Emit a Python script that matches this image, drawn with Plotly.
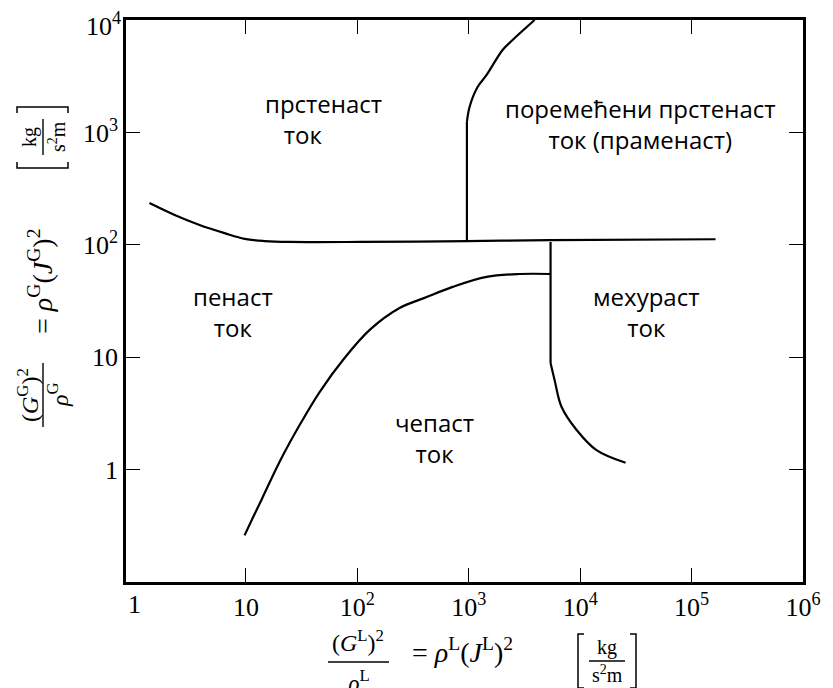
import numpy as np
import plotly.graph_objects as go

# flow-regime boundaries (x = (G^L)^2/rho^L, y = (G^G)^2/rho^G)
upper_x = [1.36, 2.29, 3.83, 6.43, 9.71, 14.7, 24.6, 105, 962, 5310, 164000]
upper_y = [235, 184, 150, 127, 113, 108, 106, 106, 108, 110, 112]

annular_x = [962, 962, 1016, 1199, 1445, 2010, 2472, 3899]
annular_y = [108, 1239, 1683, 2535, 3243, 5410, 6640, 10000]

slug_x = [9.71, 11.6, 13.8, 20.0, 30.3, 45.8, 76.7, 129, 239, 401, 716, 1445, 2858, 5420]
slug_y = [0.26, 0.378, 0.54, 1.17, 2.49, 4.9, 9.84, 17.5, 27.4, 33.7, 42.2, 51.8, 55, 55]

bubble_x = [5420, 5420, 5890, 6810, 9290, 14000, 25560]
bubble_y = [106, 8.87, 6.27, 3.6, 2.25, 1.49, 1.15]

x_ticks = [10, 100, 1000, 10000, 100000, 1000000]
x_ticktext = ["10", "10<sup>2</sup>", "10<sup>3</sup>", "10<sup>4</sup>", "10<sup>5</sup>", "10<sup>6</sup>"]
y_ticks = [1, 10, 100, 1000, 10000]
y_ticktext = ["1", "10", "10<sup>2</sup>", "10<sup>3</sup>", ""]

# region labels, positions in log10 units
labels = ["прстенаст<br>&nbsp;&nbsp;&nbsp;ток", "поремећени прстенаст<br>ток (праменаст)",
          "пенаст<br>ток", "чепаст<br>ток", "мехураст<br>ток"]
label_x = [1.149, 4.542, 0.880, 2.693, 4.587]
label_y = [3.119, 3.079, 1.398, 0.277, 1.402]
label_anchor = ["left", "center", "center", "center", "center"]

fig = go.Figure()
line = dict(color="black", width=2.2)
curve = dict(line, shape="spline", smoothing=1.0)
fig.add_trace(go.Scatter(x=upper_x, y=upper_y, mode="lines", line=curve))
fig.add_trace(go.Scatter(x=annular_x[:2], y=annular_y[:2], mode="lines", line=line))
fig.add_trace(go.Scatter(x=annular_x[1:], y=annular_y[1:], mode="lines", line=curve))
fig.add_trace(go.Scatter(x=slug_x, y=slug_y, mode="lines", line=curve))
fig.add_trace(go.Scatter(x=bubble_x[:2], y=bubble_y[:2], mode="lines", line=line))
fig.add_trace(go.Scatter(x=bubble_x[1:], y=bubble_y[1:], mode="lines", line=curve))

for t, lx, ly, a in zip(labels, label_x, label_y, label_anchor):
    fig.add_annotation(x=lx, y=ly, xref="x", yref="y", text=t, showarrow=False,
                       xanchor=a, yanchor="middle", align=a,
                       font=dict(family="Open Sans", size=24, color="black"))

# page pixel positions of the plot area (page body adds an 8px margin)
L, R, T, B = 126, 803, 20, 582
PAGE = 8
def px(x):
    return (x - L) / (R - L)
def py(y):
    return (B - y) / (B - T)

serif = "Liberation Serif"
def note(x, y, text, size=24, angle=0):
    fig.add_annotation(x=px(x), y=py(y), xref="paper", yref="paper", text=text,
                       showarrow=False, xanchor="center", yanchor="middle", textangle=angle,
                       font=dict(family=serif, size=size, color="black"))

def seg(x0, y0, x1, y1, w=1.4):
    fig.add_shape(type="line", xref="paper", yref="paper", x0=px(x0), x1=px(x1),
                  y0=py(y0), y1=py(y1), line=dict(color="black", width=w))

def bracket(xs, ys):
    path = "M " + " L ".join(f"{px(a):.5f},{py(b):.5f}" for a, b in zip(xs, ys))
    fig.add_shape(type="path", xref="paper", yref="paper", path=path,
                  line=dict(color="black", width=1.5))

# the "1" label sits just inside the left edge, without a tick mark
fig.add_annotation(x=0, y=py(604), xref="x", yref="paper", text="1", showarrow=False,
                   xanchor="center", yanchor="middle",
                   font=dict(family=serif, size=26, color="black"))
# top y label nudged down a little so it stays on the page
fig.add_annotation(x=0, y=4, xref="paper", yref="y", text="10<sup>4</sup>", showarrow=False,
                   xanchor="right", yanchor="middle", xshift=-3, yshift=-4,
                   font=dict(family=serif, size=26, color="black"))

# x title
note(358, 641, "(<i>G</i><sup>L</sup>)<sup>2</sup>")
seg(328, 662, 389, 662)
note(358, 681, "<i>ρ</i><sup>L</sup>")
note(462, 650, "= <i>ρ</i><sup>L</sup>(<i>J</i><sup>L</sup>)<sup>2</sup>", size=28)
bracket([584, 578, 578, 584], [634, 634, 688, 688])
bracket([630, 636, 636, 630], [634, 634, 688, 688])
note(607, 647, "kg", size=20)
seg(589, 661, 625, 661)
note(607, 674, "s<sup>2</sup>m", size=20)

# y title (rotated)
note(28, 395, "(<i>G</i><sup>G</sup>)<sup>2</sup>", angle=-90)
seg(43, 363, 43, 427)
note(58, 395, "<i>ρ</i><sup>G</sup>", angle=-90)
note(40, 282, "= <i>ρ</i><sup>G</sup>(<i>J</i><sup>G</sup>)<sup>2</sup>", size=28, angle=-90)
bracket([17, 17, 68, 68], [162, 168, 168, 162])
bracket([17, 17, 68, 68], [113, 107, 107, 113])
note(29, 137, "kg", size=20, angle=-90)
seg(43, 119, 43, 155)
note(57, 137, "s<sup>2</sup>m", size=20, angle=-90)

axis = dict(type="log", showgrid=False, zeroline=False, showline=True, linecolor="black",
            linewidth=2.5, mirror="ticks", ticks="inside", ticklen=14, tickwidth=1.2,
            tickcolor="black", automargin=False, ticklabeloverflow="allow",
            tickfont=dict(family=serif, size=26, color="black"))
fig.update_xaxes(axis, range=[-0.077, 6], tickvals=x_ticks, ticktext=x_ticktext)
fig.update_yaxes(axis, range=[-1, 4], tickvals=y_ticks, ticktext=y_ticktext)

fig.update_layout(width=833 - PAGE, height=688 - PAGE, autosize=False, showlegend=False,
                  margin=dict(l=L - PAGE, r=833 - R, t=T - PAGE, b=688 - B),
                  plot_bgcolor="white", paper_bgcolor="white")

fig.write_html("out.html")
